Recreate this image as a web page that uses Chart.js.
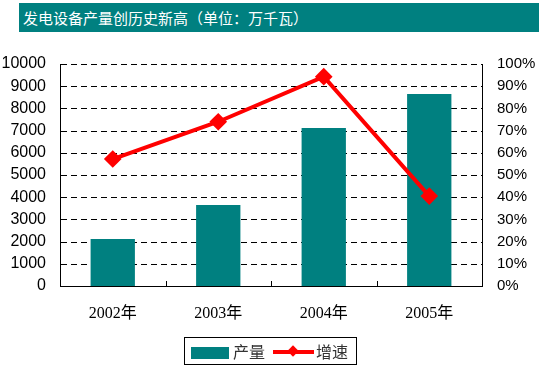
<!DOCTYPE html>
<html>
<head>
<meta charset="utf-8">
<script src="https://cdn.jsdelivr.net/npm/chart.js@4"></script>
<style>
  html, body { margin: 0; padding: 0; background: #fff; }
  #wrap { position: relative; width: 539px; height: 370px; overflow: hidden; }
  #title {
    position: absolute; left: 19px; top: 3px; width: 520px; height: 29px;
    background: #008080; color: #fff;
    font: 15px "Noto Sans CJK SC", sans-serif; line-height: 29px;
    padding-left: 4px; box-sizing: border-box;
  }
  #chart { position: absolute; left: 0; top: 0; }
  #legend {
    position: absolute; left: 184px; top: 337px; width: 173px; height: 28px;
    border: 1px solid #000; box-sizing: border-box;
    font: 16px "Noto Sans CJK SC", sans-serif; color: #333;
  }
  #legend .sw { position: absolute; left: 6px; top: 9px; width: 38px; height: 12px; background: #008080; }
  #legend .ln { position: absolute; left: 88px; top: 12px; width: 41px; height: 4px; background: #ff0000; }
  #legend .dm { position: absolute; left: 104px; top: 9px; width: 8px; height: 8px; background: #ff0000; transform: rotate(45deg); }
  #legend .t1 { position: absolute; left: 48px; top: 2px; line-height: 22px; }
  #legend .t2 { position: absolute; left: 131px; top: 2px; line-height: 22px; }
</style>
</head>
<body>
<div id="wrap">
  <canvas id="chart" width="539" height="370"></canvas>
  <div id="title">发电设备产量创历史新高（单位：万千瓦）</div>
  <div id="legend">
    <div class="sw"></div><span class="t1">产量</span>
    <div class="ln"></div><div class="dm"></div><span class="t2">增速</span>
  </div>
</div>
<script>
// 数据
const years = ['2002年', '2003年', '2004年', '2005年'];
const output = [2120, 3650, 7120, 8650];     // 产量（万千瓦）
const growth = [57.2, 74.0, 94.3, 40.5];     // 增速（%）

// 虚线网格 + 底部朝内刻度线
const chartDecor = {
  id: 'chartDecor',
  beforeDatasetsDraw(chart) {
    const y = chart.scales.y, ctx = chart.ctx, area = chart.chartArea;
    ctx.save();
    ctx.strokeStyle = '#000';
    ctx.lineWidth = 1;
    ctx.setLineDash([6, 4]);
    y.ticks.forEach(t => {
      if (t.value === 0) return;
      const py = Math.round(y.getPixelForValue(t.value)) + 0.5;
      ctx.beginPath();
      ctx.moveTo(area.left + 1, py);
      ctx.lineTo(area.right, py);
      ctx.stroke();
    });
    ctx.restore();
  },
  afterDatasetsDraw(chart) {
    const x = chart.scales.x, ctx = chart.ctx, bottom = chart.chartArea.bottom;
    const step = x.width / years.length;
    ctx.save();
    ctx.strokeStyle = '#000';
    ctx.lineWidth = 1;
    for (let i = 1; i < years.length; i++) {
      const px = Math.round(x.getPixelForValue(i) - step / 2) + 0.5;
      ctx.beginPath();
      ctx.moveTo(px, bottom);
      ctx.lineTo(px, bottom - 5);
      ctx.stroke();
    }
    ctx.restore();
  }
};

new Chart(document.getElementById('chart'), {
  data: {
    labels: years,
    datasets: [
      {
        type: 'line', label: '增速', data: growth, yAxisID: 'y1',
        borderColor: '#ff0000', backgroundColor: '#ff0000', borderWidth: 4,
        pointStyle: 'rectRot', pointRadius: 6, pointHoverRadius: 6,
        tension: 0, order: 0
      },
      {
        type: 'bar', label: '产量', data: output, yAxisID: 'y',
        backgroundColor: '#008080', barPercentage: 0.42, categoryPercentage: 1,
        order: 1
      }
    ]
  },
  options: {
    responsive: false,
    animation: false,
    layout: { padding: { top: 64, bottom: 0 } },
    plugins: { legend: { display: false }, tooltip: { enabled: false } },
    scales: {
      x: {
        grid: { display: false, drawTicks: false },
        border: { color: '#000', width: 1 },
        ticks: { color: '#000', padding: 18, font: { family: '"Liberation Serif", "Noto Sans CJK SC", serif', size: 16 } },
        afterFit(s) { s.height = 84; }
      },
      y: {
        position: 'left', min: 0, max: 10000,
        ticks: { stepSize: 1000, color: '#000', padding: 14, callback: v => String(v), font: { family: 'Arial, "Liberation Sans", sans-serif', size: 16 } },
        grid: { display: false, drawTicks: false },
        border: { color: '#000', display: true },
        afterFit(s) { s.width = 60; }
      },
      y1: {
        position: 'right', min: 0, max: 100,
        ticks: { stepSize: 10, color: '#000', padding: 15, callback: v => v + '%', font: { family: 'Arial, "Liberation Sans", sans-serif', size: 15 } },
        grid: { display: false, drawTicks: false },
        border: { color: '#000', display: true },
        afterFit(s) { s.width = 57; }
      }
    }
  },
  plugins: [chartDecor]
});
</script>
</body>
</html>
